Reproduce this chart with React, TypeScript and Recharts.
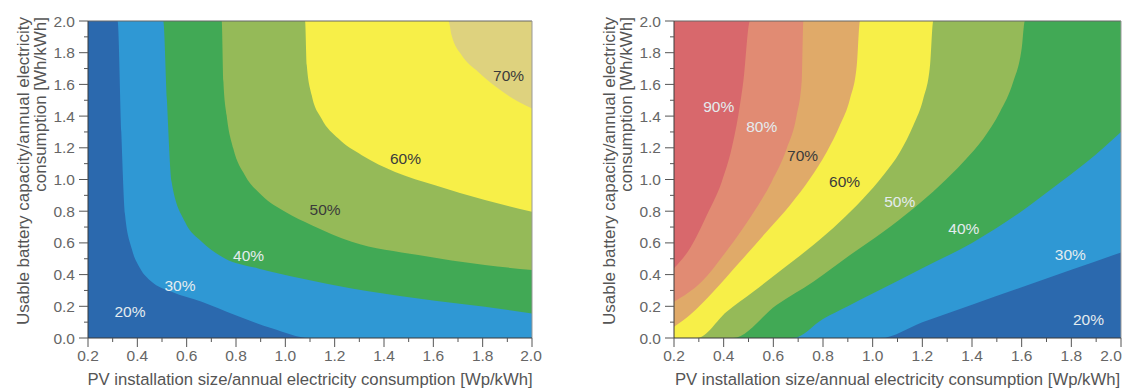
import { ComposedChart, Area, Scatter, XAxis, YAxis, CartesianGrid, ReferenceLine, Label } from 'recharts'

const FONT = '"Liberation Sans", Arial, Helvetica, sans-serif'

// axis ticks (every 0.1, labels on every 0.2)
const xTicks = [0.2, 0.3, 0.4, 0.5, 0.6, 0.7, 0.8, 0.9, 1.0, 1.1, 1.2, 1.3, 1.4, 1.5, 1.6, 1.7, 1.8, 1.9, 2.0]
const yTicks = [0, 0.1, 0.2, 0.3, 0.4, 0.5, 0.6, 0.7, 0.8, 0.9, 1.0, 1.1, 1.2, 1.3, 1.4, 1.5, 1.6, 1.7, 1.8, 1.9, 2.0]

const xTitle = 'PV installation size/annual electricity consumption [Wp/kWh]'
const yTitle1 = 'Usable battery capacity/annual electricity'
const yTitle2 = 'consumption [Wh/kWh]'

// ---- left panel: contour lines (value below the line = lower level)
const left60to70 = [
  { x: 0.2, y: 2.0 }, { x: 1.661, y: 2.0 }, { x: 1.674, y: 1.91 }, { x: 1.715, y: 1.784 },
  { x: 1.782, y: 1.679 }, { x: 1.863, y: 1.574 }, { x: 1.945, y: 1.49 }, { x: 2.0, y: 1.448 },
]
const left50to60 = [
  { x: 0.2, y: 2.0 }, { x: 1.08, y: 2.0 }, { x: 1.087, y: 1.721 }, { x: 1.107, y: 1.532 },
  { x: 1.147, y: 1.384 }, { x: 1.215, y: 1.258 }, { x: 1.31, y: 1.153 }, { x: 1.445, y: 1.048 },
  { x: 1.607, y: 0.964 }, { x: 1.809, y: 0.87 }, { x: 2.0, y: 0.796 },
]
const left40to50 = [
  { x: 0.2, y: 2.0 }, { x: 0.742, y: 2.0 }, { x: 0.749, y: 1.616 }, { x: 0.762, y: 1.405 },
  { x: 0.789, y: 1.195 }, { x: 0.836, y: 1.027 }, { x: 0.904, y: 0.901 }, { x: 0.999, y: 0.796 },
  { x: 1.107, y: 0.712 }, { x: 1.269, y: 0.607 }, { x: 1.539, y: 0.523 }, { x: 1.809, y: 0.46 },
  { x: 2.0, y: 0.429 },
]
const left30to40 = [
  { x: 0.2, y: 2.0 }, { x: 0.505, y: 2.0 }, { x: 0.52, y: 1.5 }, { x: 0.539, y: 0.985 },
  { x: 0.593, y: 0.733 }, { x: 0.661, y: 0.607 }, { x: 0.755, y: 0.502 }, { x: 0.89, y: 0.439 },
  { x: 1.066, y: 0.376 }, { x: 1.269, y: 0.313 }, { x: 1.539, y: 0.25 }, { x: 1.809, y: 0.197 },
  { x: 2.0, y: 0.155 },
]
const left20to30 = [
  { x: 0.2, y: 2.0 }, { x: 0.32, y: 2.0 }, { x: 0.335, y: 1.3 }, { x: 0.35, y: 0.78 },
  { x: 0.377, y: 0.565 }, { x: 0.411, y: 0.44 }, { x: 0.458, y: 0.355 }, { x: 0.539, y: 0.292 },
  { x: 0.661, y: 0.229 }, { x: 0.796, y: 0.145 }, { x: 0.945, y: 0.061 }, { x: 1.1, y: 0.0 },
  { x: 2.0, y: 0.0 },
]
const leftLabelText = ['20%', '30%', '40%', '50%', '60%', '70%']
const leftLabelX = [0.37, 0.573, 0.851, 1.161, 1.487, 1.905]
const leftLabelY = [0.167, 0.334, 0.523, 0.813, 1.131, 1.658]
const leftLabelTone = ['light', 'light', 'light', 'dark', 'dark', 'dark']

// ---- right panel
const right80to90 = [
  { x: 0.2, y: 0.44 }, { x: 0.264, y: 0.565 }, { x: 0.332, y: 0.775 }, { x: 0.392, y: 0.985 },
  { x: 0.432, y: 1.195 }, { x: 0.459, y: 1.405 }, { x: 0.479, y: 1.616 }, { x: 0.506, y: 2.0 },
  { x: 2.0, y: 2.0 },
]
const right70to80 = [
  { x: 0.2, y: 0.229 }, { x: 0.311, y: 0.355 }, { x: 0.419, y: 0.565 }, { x: 0.513, y: 0.775 },
  { x: 0.593, y: 0.985 }, { x: 0.654, y: 1.195 }, { x: 0.694, y: 1.405 }, { x: 0.714, y: 1.616 },
  { x: 0.721, y: 2.0 }, { x: 2.0, y: 2.0 },
]
const right60to70 = [
  { x: 0.2, y: 0.071 }, { x: 0.264, y: 0.145 }, { x: 0.358, y: 0.292 }, { x: 0.466, y: 0.481 },
  { x: 0.573, y: 0.67 }, { x: 0.667, y: 0.838 }, { x: 0.748, y: 1.006 }, { x: 0.815, y: 1.174 },
  { x: 0.868, y: 1.342 }, { x: 0.909, y: 1.511 }, { x: 0.936, y: 1.721 }, { x: 0.949, y: 2.0 },
  { x: 2.0, y: 2.0 },
]
const right50to60 = [
  { x: 0.2, y: 0.0 }, { x: 0.293, y: 0.0 }, { x: 0.412, y: 0.166 }, { x: 0.519, y: 0.292 },
  { x: 0.64, y: 0.439 }, { x: 0.761, y: 0.586 }, { x: 0.868, y: 0.733 }, { x: 0.962, y: 0.88 },
  { x: 1.043, y: 1.027 }, { x: 1.11, y: 1.174 }, { x: 1.164, y: 1.342 }, { x: 1.204, y: 1.511 },
  { x: 1.231, y: 1.721 }, { x: 1.244, y: 2.0 }, { x: 2.0, y: 2.0 },
]
const right40to50 = [
  { x: 0.2, y: 0.0 }, { x: 0.438, y: 0.0 }, { x: 0.613, y: 0.208 }, { x: 0.761, y: 0.355 },
  { x: 0.909, y: 0.523 }, { x: 1.043, y: 0.67 }, { x: 1.164, y: 0.817 }, { x: 1.271, y: 0.964 },
  { x: 1.365, y: 1.111 }, { x: 1.446, y: 1.258 }, { x: 1.513, y: 1.427 }, { x: 1.566, y: 1.616 },
  { x: 1.6, y: 1.826 }, { x: 1.613, y: 2.0 }, { x: 2.0, y: 2.0 },
]
const right30to40 = [
  { x: 0.2, y: 0.0 }, { x: 0.68, y: 0.0 }, { x: 0.8, y: 0.12 }, { x: 0.9, y: 0.2 },
  { x: 1.0, y: 0.28 }, { x: 1.2, y: 0.44 }, { x: 1.4, y: 0.6 }, { x: 1.6, y: 0.8 },
  { x: 1.728, y: 0.95 }, { x: 1.862, y: 1.11 }, { x: 2.0, y: 1.3 },
]
const right20to30 = [
  { x: 0.2, y: 0.0 }, { x: 1.03, y: 0.0 }, { x: 1.2, y: 0.1 }, { x: 1.4, y: 0.21 },
  { x: 1.6, y: 0.32 }, { x: 1.8, y: 0.43 }, { x: 2.0, y: 0.54 },
]
const rightLabelText = ['90%', '80%', '70%', '60%', '50%', '40%', '30%', '20%']
const rightLabelX = [0.38, 0.553, 0.718, 0.887, 1.109, 1.367, 1.796, 1.869]
const rightLabelY = [1.462, 1.336, 1.153, 0.986, 0.864, 0.69, 0.53, 0.12]
const rightLabelTone = ['light', 'light', 'dark', 'dark', 'light', 'light', 'light', 'light']

const C = {
  c20: '#2b69ae', c30: '#2f98d4', c40: '#41a955', c50: '#95ba58', c60: '#f7ef48', c70l: '#ded27e',
  c70r: '#e0aa69', c80: '#e18b73', c90: '#d8686c',
}

const leftBands = [
  { data: left60to70, fill: C.c60 },
  { data: left50to60, fill: C.c50 },
  { data: left40to50, fill: C.c40 },
  { data: left30to40, fill: C.c30 },
  { data: left20to30, fill: C.c20 },
]
const rightBands = [
  { data: right80to90, fill: C.c80 },
  { data: right70to80, fill: C.c70r },
  { data: right60to70, fill: C.c60 },
  { data: right50to60, fill: C.c50 },
  { data: right40to50, fill: C.c40 },
  { data: right30to40, fill: C.c30 },
  { data: right20to30, fill: C.c20 },
]

const leftLabels = leftLabelText.map((t, i) => ({ x: leftLabelX[i], y: leftLabelY[i], text: t, tone: leftLabelTone[i] }))
const rightLabels = rightLabelText.map((t, i) => ({ x: rightLabelX[i], y: rightLabelY[i], text: t, tone: rightLabelTone[i] }))

function XTick(props: any) {
  const { x, y, payload, maxX } = props
  const v = payload.value
  const major = Math.round(v * 10) % 2 === 0
  // keep the last label inside the page
  const tx = Math.min(x, maxX - 12)
  return (
    <g>
      <line x1={x} y1={y} x2={x} y2={y + (major ? 9 : 4)} stroke="#555" strokeWidth={1} />
      {major && (
        <text x={tx} y={y + 23} textAnchor="middle" fontSize={15.5} fontFamily={FONT} fill="#666">
          {v.toFixed(1)}
        </text>
      )}
    </g>
  )
}

function YTick(props: any) {
  const { x, y, payload } = props
  const v = payload.value
  const major = Math.round(v * 10) % 2 === 0
  return (
    <g>
      <line x1={x} y1={y} x2={x - (major ? 9 : 4)} y2={y} stroke="#555" strokeWidth={1} />
      {major && (
        <text x={x - 13} y={y} dy="0.36em" textAnchor="end" fontSize={15.5} fontFamily={FONT} fill="#666">
          {v.toFixed(1)}
        </text>
      )}
    </g>
  )
}

function XTitle(props: any) {
  const { x, y, width } = props.viewBox
  return (
    <text x={x + width / 2} y={y + 47} textAnchor="middle" fontSize={16.7} fontFamily={FONT} fill="#555">
      {xTitle}
    </text>
  )
}

function YTitle(props: any) {
  const { x, y } = props.viewBox
  const top = y - 4
  const b1 = x + 1
  const b2 = x + 18
  return (
    <g fontSize={17} fontFamily={FONT} fill="#555">
      <text x={b1} y={top} textAnchor="end" transform={`rotate(-90, ${b1}, ${top})`}>
        {yTitle1}
      </text>
      <text x={b2} y={top} textAnchor="end" transform={`rotate(-90, ${b2}, ${top})`}>
        {yTitle2}
      </text>
    </g>
  )
}

function PctLabel(props: any) {
  const { cx, cy, payload } = props
  return (
    <text
      x={cx}
      y={cy}
      dy="0.36em"
      textAnchor="middle"
      fontSize={15.5}
      fontFamily={FONT}
      fill={payload.tone === 'dark' ? '#3b3b3b' : '#e4ecef'}
    >
      {payload.text}
    </text>
  )
}

function Panel({ width, right, background, bands, labels }: any) {
  return (
    <ComposedChart width={width} height={390} margin={{ top: 21, right, bottom: 0, left: 28 }}>
      <CartesianGrid horizontal={false} vertical={false} fill={background} fillOpacity={1} />
      {bands.map((b: any, i: number) => (
        <Area
          key={i}
          data={b.data}
          dataKey="y"
          type="monotone"
          fill={b.fill}
          fillOpacity={1}
          stroke="none"
          dot={false}
          activeDot={false}
          isAnimationActive={false}
        />
      ))}
      <ReferenceLine y={2} stroke="#666" />
      <ReferenceLine x={2} stroke="#999" />
      <Scatter data={labels} dataKey="y" shape={PctLabel} isAnimationActive={false} />
      <XAxis
        type="number"
        dataKey="x"
        domain={[0.2, 2]}
        ticks={xTicks}
        interval={0}
        height={52}
        tickSize={0}
        tickMargin={0}
        tickLine={false}
        tick={<XTick maxX={width - 2} />}
        axisLine={{ stroke: '#3a3a3a' }}
        allowDataOverflow
      >
        <Label content={XTitle} />
      </XAxis>
      <YAxis
        type="number"
        dataKey="y"
        domain={[0, 2]}
        ticks={yTicks}
        interval={0}
        width={60}
        tickSize={0}
        tickMargin={0}
        tickLine={false}
        tick={<YTick />}
        axisLine={{ stroke: '#3a3a3a' }}
        allowDataOverflow
      >
        <Label content={YTitle} />
      </YAxis>
    </ComposedChart>
  )
}

export default function App() {
  return (
    <div style={{ position: 'absolute', left: 0, top: 0, width: 1125, height: 390, background: '#fff' }}>
      <div style={{ position: 'absolute', left: 0, top: 0 }}>
        <Panel width={545} right={13} background={C.c70l} bands={leftBands} labels={leftLabels} />
      </div>
      <div style={{ position: 'absolute', left: 586, top: 0 }}>
        <Panel width={539} right={4} background={C.c90} bands={rightBands} labels={rightLabels} />
      </div>
    </div>
  )
}
